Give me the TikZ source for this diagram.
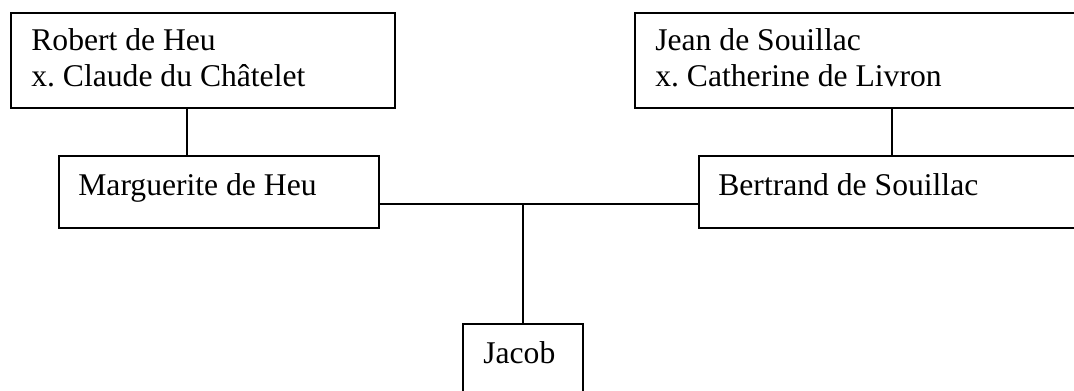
\documentclass[tikz,border=0pt]{standalone}
\usepackage{fontspec}
\setmainfont{Liberation Serif}
\frenchspacing
\begin{document}
\begin{tikzpicture}[
    x=0.02cm, y=-0.02cm,
    box/.style={rectangle, draw=black, line width=0.9pt, inner sep=0pt, anchor=north west},
    persontext/.style={anchor=base west, inner sep=0pt, align=left, font=\fontsize{18}{21}\selectfont},
    link/.style={draw=black, line width=0.9pt}
]
\useasboundingbox (0,0) rectangle (1074,390);
\clip (0,0) rectangle (1074,390);
\node[box, minimum width=7.68cm, minimum height=1.90cm] (robert) at (10,12) {};
\node[box, minimum width=6.40cm, minimum height=1.44cm] (marg) at (58,155) {};
\node[box, minimum width=10.28cm, minimum height=1.90cm] (jean) at (634,12) {};
\node[box, minimum width=8.40cm, minimum height=1.44cm] (bert) at (698,155) {};
\node[box, minimum width=2.40cm, minimum height=1.60cm] (jacob) at (462,323) {};

% two-line texts sit on their last baseline
\node[persontext] (roberttext) at ([xshift=0.42cm, yshift=-1.50cm]robert.north west) {Robert de Heu\\x. Claude du Châtelet};
\node[persontext] (margtext) at ([xshift=0.40cm, yshift=-0.80cm]marg.north west) {Marguerite de Heu};
\node[persontext] (jeantext) at ([xshift=0.42cm, yshift=-1.50cm]jean.north west) {Jean de Souillac\\x. Catherine de Livron};
\node[persontext] (berttext) at ([xshift=0.40cm, yshift=-0.80cm]bert.north west) {Bertrand de Souillac};
\node[persontext] (jacobtext) at ([xshift=0.42cm, yshift=-0.80cm]jacob.north west) {Jacob};

% parents
\draw[link] ([xshift=-0.32cm]robert.south) -- ([xshift=-0.32cm]robert.south |- marg.north);
\draw[link] (jean.south) -- (jean.south |- bert.north);
% marriage and child
\coordinate (union) at ([yshift=-0.24cm]marg.east -| jacob.north);
\draw[link] ([yshift=-0.24cm]marg.east) -- ([yshift=-0.24cm]marg.east -| bert.west);
\draw[link] (union) -- (jacob.north);
\end{tikzpicture}
\end{document}
